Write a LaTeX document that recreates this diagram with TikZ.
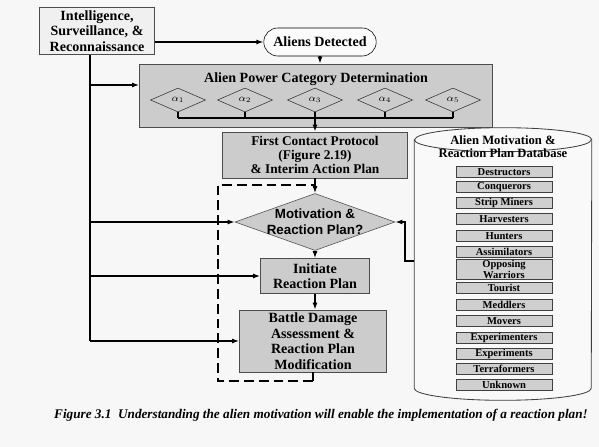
\documentclass[tikz,border=0pt]{standalone}
\usepackage{fontspec}
\setmainfont{Liberation Serif}
\newfontfamily\qfont{Liberation Sans}
\usepackage{tikz}
\usetikzlibrary{shapes.geometric, shapes.misc, positioning, arrows.meta, calc}

\begin{document}
\begin{tikzpicture}[
  x=0.025cm, y=-0.025cm,
  every node/.style={font=\bfseries\fontsize{10}{11}\selectfont},
  block/.style={
    rectangle, draw=gray!60!black, fill=gray!40,
    inner sep=1pt, align=center,
  },
  terminal/.style={
    rounded rectangle, draw=black, fill=gray!3, inner sep=2pt,
  },
  choice/.style={
    diamond, draw=gray!40!black, fill=gray!40, inner sep=0pt,
    minimum width=1.375cm, minimum height=0.6cm,
    font=\fontsize{7}{8}\selectfont,
  },
  query/.style={
    diamond, draw=gray!60!black, fill=gray!40, inner sep=0pt,
    minimum width=4cm, minimum height=1.425cm,
  },
  store/.style={
    rectangle, inner sep=0pt,
    minimum width=4.425cm, minimum height=6.8cm,
  },
  storeline/.style={draw=gray!50!black, fill=gray!5, line width=0.6pt},
  entry/.style={
    rectangle, draw=gray!50!black, fill=gray!38, inner sep=0.5pt,
    minimum width=2.4cm, minimum height=0.275cm, align=center,
    font=\bfseries\fontsize{7.5}{7.8}\selectfont,
  },
  wire/.style={line width=0.9pt},
  arr/.style={-{Latex[length=5pt,width=3.5pt]}, line width=0.9pt},
]

% ---- Page ----
\fill[gray!6] (0,0) rectangle (599,447);

% ---- Main flow ----
\node[block, fill=gray!12, minimum width=2.875cm, minimum height=1.175cm] (isr) at (97,31)
  {Intelligence,\\Surveillance, \&\\Reconnaissance};
\node[terminal, minimum width=2.95cm, minimum height=0.7cm] (detect) at (320,42) {Aliens Detected};

\node[block, minimum width=8.825cm, minimum height=1.575cm] (power) at (316,95.5) {};
\node[below=3pt of power.north] (powerT) {Alien Power Category Determination};

\foreach \i/\x in {1/178, 2/245, 3/315, 4/385, 5/453}
  \node[choice] (a\i) at (\x,100) {$\alpha_{\i}$};

\node[block, minimum width=4.625cm, minimum height=1.15cm,
      font=\bfseries\fontsize{9.5}{9.8}\selectfont] (fcp) at (315,155)
  {First Contact Protocol\\(Figure 2.19)\\\& Interim Action Plan};
\node[query] (motiv) at (315,222) {};
\node[align=center, font=\qfont\bfseries\fontsize{9.5}{11.5}\selectfont] (motivT) at (motiv)
  {Motivation \&\\Reaction Plan?};
\node[block, minimum width=2.725cm, minimum height=0.875cm] (init) at (315,276)
  {Initiate\\Reaction Plan};
\node[block, minimum width=3.675cm, minimum height=1.55cm] (bda) at (313,341)
  {Battle Damage\\Assessment \&\\Reaction Plan\\Modification};

% ---- Database ----
\node[store] (db) at (503,264) {};
\draw[storeline] ([yshift=-0.3cm]db.north west) -- ([yshift=0.3cm]db.south west)
  arc[start angle=180, end angle=360, x radius=2.2125cm, y radius=0.3cm]
  -- ([yshift=-0.3cm]db.north east)
  arc[start angle=0, end angle=180, x radius=2.2125cm, y radius=0.3cm] -- cycle;
\draw[storeline, fill=none] ([yshift=-0.3cm]db.north west)
  arc[start angle=180, end angle=360, x radius=2.2125cm, y radius=0.3cm];
\node[below=2pt of db.north, align=center, font=\bfseries\fontsize{9}{9.5}\selectfont] (dbT)
  {Alien Motivation \&\\Reaction Plan Database};
\foreach \lab/\y [count=\k] in {Destructors/172, Conquerors/187, Strip Miners/203,
    Harvesters/219, Hunters/236, Assimilators/252, Opposing\\Warriors/269.5,
    Tourist/288, Meddlers/305, Movers/321, Experimenters/338, Experiments/354,
    Terraformers/369, Unknown/385}
  \node[entry] (m\k) at (504,\y) {\lab};

% ---- Connectors ----
\draw[arr] (isr.east |- detect) -- (detect.west);
\draw[arr] (detect.south) -- (detect.south |- power.north);

\coordinate (bus) at (0,118);
\foreach \i in {1,...,5}
  \draw[wire] (a\i.south) -- (a\i.south |- bus);
\draw[wire] (a1.south |- bus) -- (a5.south |- bus);
\draw[arr] (fcp.north |- bus) -- (fcp.north);

\draw[arr] (fcp.south) -- (motiv.north);
\draw[arr] (motiv.south) -- (init.north);
\draw[arr] (init.south) -- (init.south |- bda.north);

% trunk from the sensor box
\coordinate (trunk) at (90,0);
\coordinate (tPow) at (90,85);
\draw[wire] (isr.south -| trunk) -- (trunk |- bda.west);
\draw[arr] (tPow) -- (tPow -| power.west);
\draw[arr] (trunk |- motiv.west) -- (motiv.west);
\draw[arr] (trunk |- init.west) -- (init.west);
\draw[arr] (trunk |- bda.west) -- (bda.west);

% database feeds the decision
\coordinate (dbJ) at (405,261);
\draw[arr] (dbJ -| db.west) -- (dbJ) -- (dbJ |- motiv.east) -- (motiv.east);

% feedback loop (dashed)
\coordinate (loopB) at (313,381);
\coordinate (loopT) at (315,185);
\coordinate (loopX) at (218,0);
\draw[wire] (bda.south) -- (loopB);
\draw[wire, dash pattern=on 7pt off 3.5pt] (loopB) -- (loopB -| loopX) -- (loopX |- loopT) -- (loopT);

% ---- Caption ----
\node[font=\bfseries\itshape\fontsize{9.4}{11}\selectfont] (cap) at (321,415)
  {Figure 3.1\enspace Understanding the alien motivation will enable the implementation of a reaction plan!};

\end{tikzpicture}
\end{document}
